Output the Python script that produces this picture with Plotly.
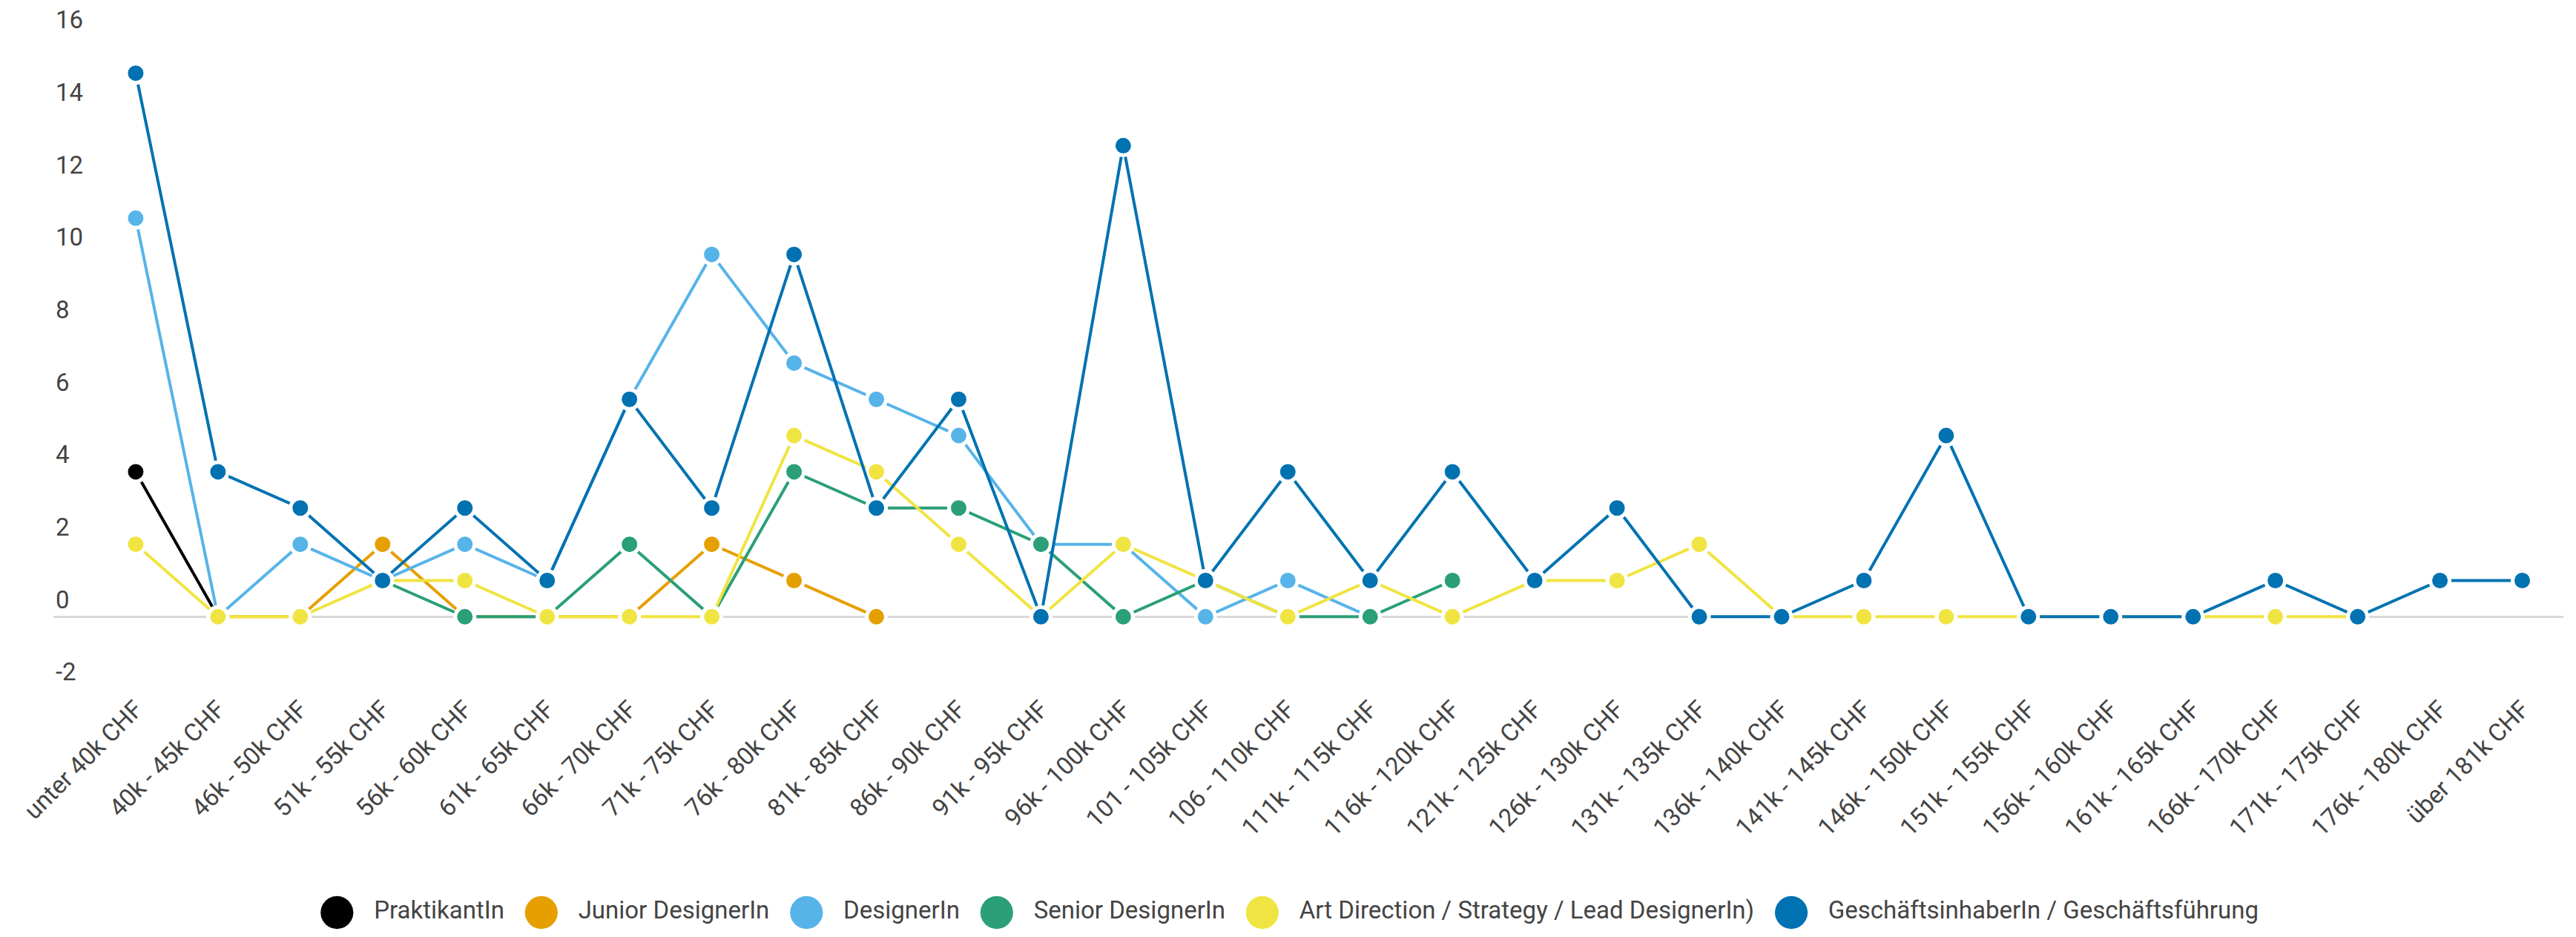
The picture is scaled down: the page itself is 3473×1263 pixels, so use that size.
import plotly.graph_objects as go

categories = [
    "unter 40k CHF", "40k - 45k CHF", "46k - 50k CHF", "51k - 55k CHF", "56k - 60k CHF",
    "61k - 65k CHF", "66k - 70k CHF", "71k - 75k CHF", "76k - 80k CHF", "81k - 85k CHF",
    "86k - 90k CHF", "91k - 95k CHF", "96k - 100k CHF", "101 - 105k CHF", "106 - 110k CHF",
    "111k - 115k CHF", "116k - 120k CHF", "121k - 125k CHF", "126k - 130k CHF", "131k - 135k CHF",
    "136k - 140k CHF", "141k - 145k CHF", "146k - 150k CHF", "151k - 155k CHF", "156k - 160k CHF",
    "161k - 165k CHF", "166k - 170k CHF", "171k - 175k CHF", "176k - 180k CHF", "über 181k CHF",
]

praktikant = [4, 0] + [None] * 28
junior = [None, 0, 0, 2, 0, 0, 0, 2, 1, 0] + [None] * 20
designer = [11, 0, 2, 1, 2, 1, 6, 10, 7, 6, 5, 2, 2, 0, 1, 0] + [None] * 14
senior = [None, None, None, 1, 0, 0, 2, 0, 4, 3, 3, 2, 0, 1, 0, 0, 1] + [None] * 13
art_direction = [2, 0, 0, 1, 1, 0, 0, 0, 5, 4, 2, 0, 2, 1, 0, 1, 0, 1, 1, 2,
                 0, 0, 0, 0, 0, 0, 0, 0] + [None] * 2
inhaber = [15, 4, 3, 1, 3, 1, 6, 3, 10, 3, 6, 0, 13, 1, 4, 1, 4, 1, 3, 0,
           0, 1, 5, 0, 0, 0, 1, 0, 1, 1]

series_names = [
    "PraktikantIn",
    "Junior DesignerIn",
    "DesignerIn",
    "Senior DesignerIn",
    "Art Direction / Strategy / Lead DesignerIn)",
    "GeschäftsinhaberIn / Geschäftsführung",
]
series_values = [praktikant, junior, designer, senior, art_direction, inhaber]
series_colors = ["#000000", "#E69F00", "#56B4E9", "#2A9F78", "#F0E442", "#0072B2"]

y_tick_vals = [-2, 0, 2, 4, 6, 8, 10, 12, 14, 16]
y_tick_text = ["-2", "0", "2", "4", "6", "8", "10", "12", "14", "16"]

FONT = "Roboto, 'Noto Sans', sans-serif"
TEXT_COLOR = "#444444"

fig = go.Figure()

for name, vals, col in zip(series_names, series_values, series_colors):
    fig.add_trace(go.Scatter(
        x=categories, y=vals, name=name, mode="lines+markers",
        line=dict(color=col, width=4),
        marker=dict(color=col, size=26, line=dict(color="#ffffff", width=5)),
        showlegend=False, hoverinfo="x+y+name",
    ))

# legend row: coloured circle glyph + series name for every series
legend_parts = [
    f'<span style="color:{col};font-size:58px;font-family:DejaVu Sans;baseline-shift:-7px">●</span>   {name}'
    for name, col in zip(series_names, series_colors)
]
legend_text = "   ".join(legend_parts)

fig.add_annotation(
    text=legend_text, xref="paper", yref="paper",
    x=0.4919, y=-0.3578, xanchor="center", yanchor="bottom",
    showarrow=False, font=dict(family=FONT, size=33, color=TEXT_COLOR),
)

fig.update_layout(
    width=3473, height=1263,
    margin=dict(l=72, r=17, t=1, b=334, autoexpand=False),
    paper_bgcolor="#ffffff", plot_bgcolor="#ffffff",
    font=dict(family=FONT, size=33, color=TEXT_COLOR),
    showlegend=False,
    xaxis=dict(
        type="category", range=[-1, 29.5], showgrid=False, zeroline=False,
        showline=False, ticks="", tickangle=-45,
        tickfont=dict(family=FONT, size=33, color=TEXT_COLOR), automargin=False,
    ),
    yaxis=dict(
        range=[-2, 17], tickvals=y_tick_vals, ticktext=y_tick_text,
        ticklabelposition="inside top", showgrid=False, showline=False, ticks="",
        zeroline=True, zerolinecolor="#d9d9d9", zerolinewidth=3,
        tickfont=dict(family=FONT, size=33, color=TEXT_COLOR), automargin=False,
    ),
)

fig.write_html(
    "out.html",
    config={"displayModeBar": False},
    post_script="document.body.style.margin='0';document.body.style.overflow='hidden';",
)
